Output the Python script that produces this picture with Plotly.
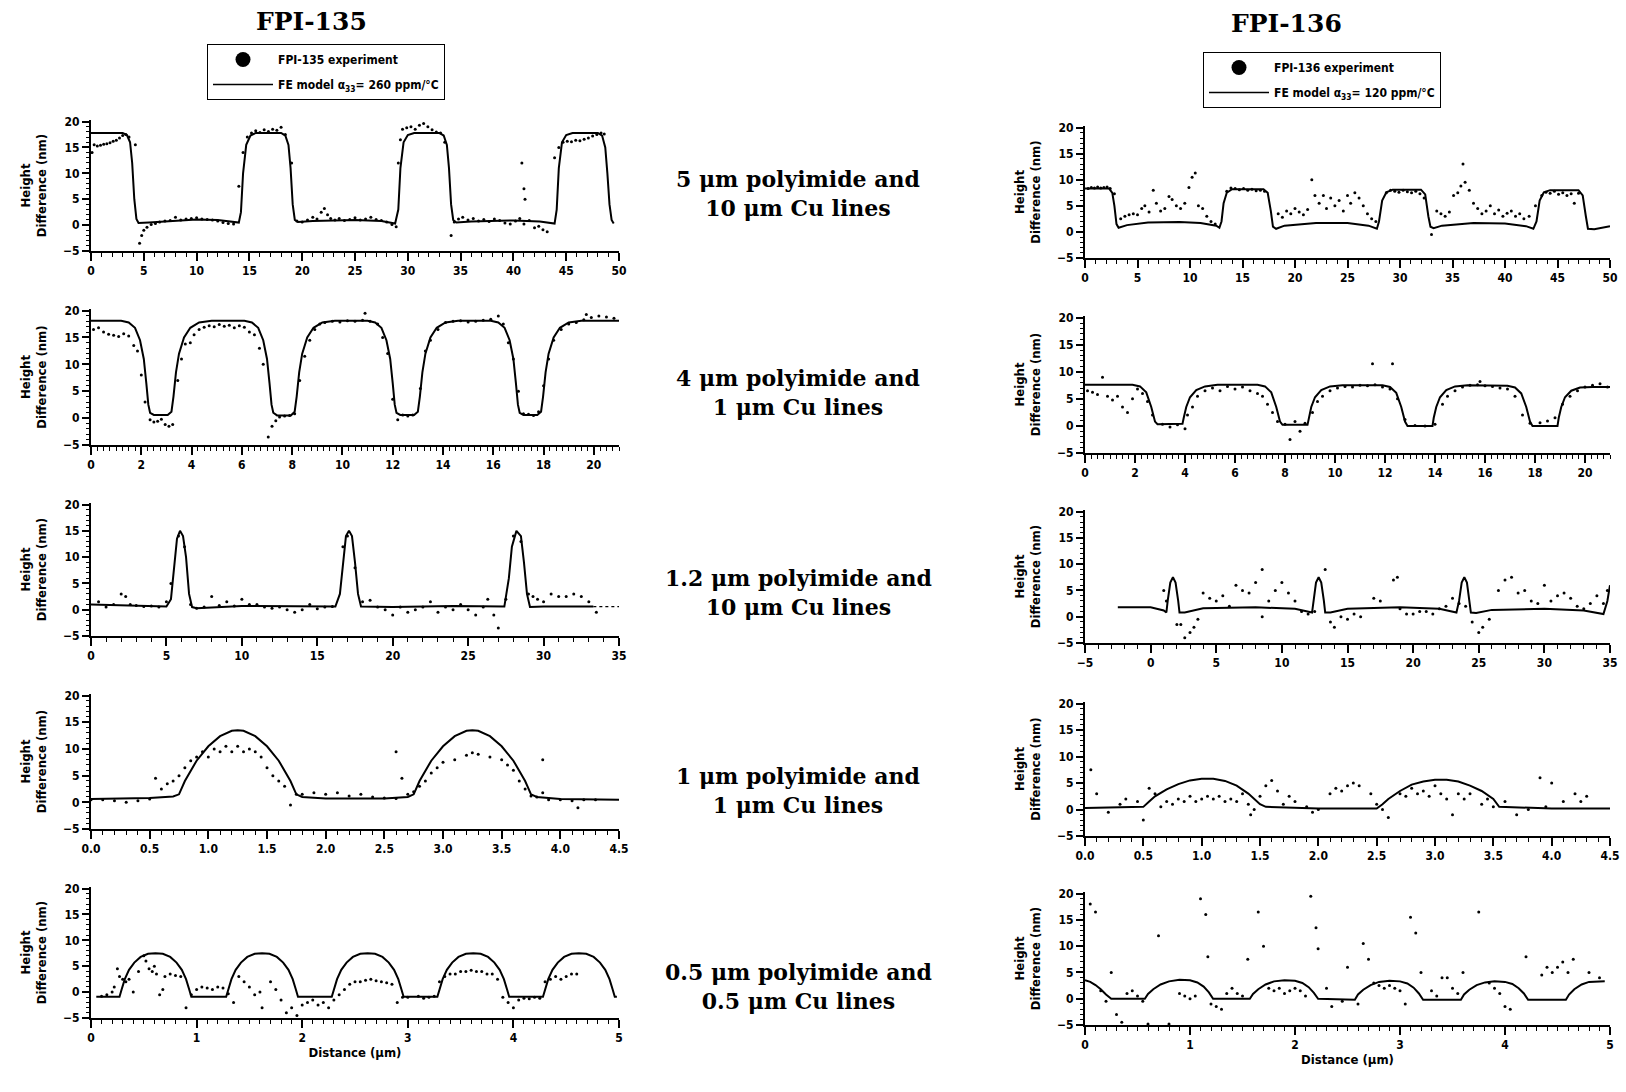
import plotly.graph_objects as go

# ---------------- DATA ----------------
series_names = ["FPI-135 experiment", "FE model \u03b1<sub>33</sub>= 260 ppm/\u00b0C",
                "FPI-136 experiment", "FE model \u03b1<sub>33</sub>= 120 ppm/\u00b0C"]
row_labels = ["5 \u03bcm polyimide and<br>10 \u03bcm Cu lines",
              "4 \u03bcm polyimide and<br>1 \u03bcm Cu lines",
              "1.2 \u03bcm polyimide and<br>10 \u03bcm Cu lines",
              "1 \u03bcm polyimide and<br>1 \u03bcm Cu lines",
              "0.5 \u03bcm polyimide and<br>0.5 \u03bcm Cu lines"]

# Row 1: 5 um PI / 10 um Cu
r1_fe135 = [(0,17.8),(3.0,17.8),(3.4,17.4),(3.7,16.0),(3.9,12.0),(4.1,5.0),(4.3,1.2),(4.5,0.4),(5.5,0.5),(8,0.9),(10,1.1),(12,1.0),(13.5,0.6),
            (14.0,0.5),(14.2,2.5),(14.4,10.0),(14.7,15.5),(15.1,17.3),(15.6,17.8),(18.0,17.8),(18.4,17.3),(18.7,15.5),(18.9,11.0),(19.1,4.0),(19.3,1.0),(19.6,0.6),
            (21,0.8),(25,1.0),(27.5,0.8),(28.8,0.3),(29.1,3.0),(29.3,11.0),(29.6,16.0),(30.0,17.4),(30.6,17.8),(33.0,17.8),(33.4,17.3),(33.7,15.5),(33.9,11.0),(34.1,4.0),(34.3,1.0),(34.6,0.5),
            (36,0.7),(40,0.9),(42.5,0.7),(43.9,0.3),(44.1,3.0),(44.3,11.0),(44.6,16.0),(45.0,17.4),(45.6,17.8),(48.0,17.8),(48.4,17.3),(48.7,15.0),(48.9,10.0),(49.1,4.0),(49.3,1.0),(49.5,0.3)]
r1_exp135 = [(0.1,14.0),(0.3,15.5),(0.6,15.3),(0.9,15.4),(1.2,15.6),(1.5,15.7),(1.8,15.9),(2.1,16.2),(2.4,16.4),(2.7,16.8),(3.0,17.3),(3.3,17.5),(3.6,17.0),(4.2,15.5),
             (4.6,-3.5),(4.8,-2.0),(5.0,-1.0),(5.3,-0.4),(5.7,0.1),(6.1,0.3),(6.5,0.6),(7.0,0.8),(7.5,0.9),(8.0,1.5),(8.5,1.0),(9.0,1.2),(9.5,1.3),(10.0,1.4),(10.5,1.2),
             (11.0,1.1),(11.5,1.0),(12.0,0.8),(12.5,0.5),(13.0,0.3),(13.5,0.2),(14.0,7.5),(14.4,14.0),(14.8,17.0),(15.2,17.8),(15.6,18.2),(16.0,17.9),(16.4,18.4),(16.8,18.1),
             (17.2,18.5),(17.6,18.3),(18.0,18.9),(18.4,17.5),(19.0,12.0),(19.5,0.8),(20.0,0.6),(20.5,1.0),(21.0,1.5),(21.4,1.2),(21.8,2.5),(22.1,3.2),(22.4,2.0),(22.7,1.3),
             (23.1,1.0),(23.5,1.3),(24.0,0.9),(24.5,1.1),(25.0,1.4),(25.5,1.0),(26.0,1.2),(26.5,1.5),(27.0,1.1),(27.5,0.9),(28.0,0.6),(28.5,0.1),(28.9,-0.3),(29.1,12.0),
             (29.3,16.5),(29.5,18.5),(29.9,18.8),(30.3,19.0),(30.7,18.5),(31.1,19.3),(31.5,19.6),(31.9,19.0),(32.3,18.4),(32.7,18.0),(33.1,17.8),(33.5,16.0),(34.1,-2.0),
             (34.4,0.6),(34.8,1.2),(35.2,1.5),(35.7,1.0),(36.2,1.3),(36.7,0.8),(37.2,1.1),(37.7,0.7),(38.2,1.2),(38.7,0.9),(39.2,0.4),(39.7,0.2),(40.2,0.8),(40.6,1.3),
             (41.0,0.2),(41.5,0.9),(42.0,-0.5),(42.4,-0.2),(42.8,-0.9),(43.2,-1.3),(40.8,12.0),(41.0,7.0),(41.1,5.0),(43.9,13.0),(44.3,15.0),(44.7,16.0),(45.1,16.2),
             (45.5,16.1),(45.9,16.4),(46.3,16.3),(46.7,16.6),(47.1,16.8),(47.5,17.2),(47.9,17.5),(48.3,17.8),(48.6,17.6)]
r1_fe136 = [(0,8.3),(2.3,8.3),(2.6,7.5),(2.8,5.0),(3.0,1.5),(3.2,0.8),(4,1.3),(6,1.8),(9,1.9),(11,1.7),(12.5,1.2),(12.8,0.8),(13.0,2.0),(13.2,5.5),(13.5,7.5),(14.0,8.2),
            (17.0,8.2),(17.4,7.5),(17.7,4.0),(17.9,1.0),(18.2,0.6),(19,1.2),(22,1.7),(25,1.7),(27,1.2),(27.8,0.6),(28.0,2.0),(28.3,6.0),(28.7,7.6),(29.3,8.1),(32.0,8.1),
            (32.4,7.2),(32.7,3.0),(32.9,1.0),(33.2,0.7),(34,1.2),(37,1.7),(40,1.6),(42,1.1),(42.7,0.6),(43.0,2.0),(43.3,6.0),(43.7,7.6),(44.3,8.0),(47.0,8.0),(47.4,7.0),
            (47.7,3.0),(47.9,0.6),(48.5,0.5),(49.5,1.0),(50,1.1)]
r1_exp136 = [(0.3,8.3),(0.6,8.5),(0.9,8.4),(1.2,8.6),(1.5,8.4),(1.8,8.5),(2.1,8.6),(2.4,8.3),(2.8,7.3),(3.4,2.5),(3.8,3.0),(4.2,3.3),(4.6,3.5),(5.0,3.3),(5.4,4.5),
             (5.7,5.0),(6.1,3.8),(6.5,8.0),(6.8,5.5),(7.2,4.0),(7.6,4.5),(8.0,6.8),(8.3,6.2),(8.7,5.0),(9.1,4.5),(9.5,5.5),(9.9,8.5),(10.2,10.5),(10.5,11.3),(10.8,5.0),
             (11.2,4.5),(11.6,3.0),(12.0,2.0),(12.4,1.5),(13.5,7.8),(13.9,8.4),(14.3,8.3),(14.7,8.1),(15.1,8.3),(15.5,8.0),(15.9,8.2),(16.3,7.9),(16.7,8.0),(17.1,7.8),
             (18.4,3.5),(18.8,2.8),(19.2,4.0),(19.6,3.5),(20.0,4.5),(20.4,3.8),(20.8,3.3),(21.2,4.3),(21.6,10.0),(21.9,7.0),(22.3,5.5),(22.7,7.0),(23.0,4.5),(23.4,6.5),
             (23.8,5.0),(24.2,6.0),(24.6,4.0),(25.0,7.0),(25.3,5.5),(25.7,7.5),(26.1,6.5),(26.5,5.0),(26.9,3.5),(27.3,2.5),(27.7,2.0),(28.7,7.5),(29.1,8.0),(29.5,7.8),
             (29.9,7.6),(30.3,8.0),(30.7,7.7),(31.1,7.5),(31.5,7.8),(31.9,7.3),(32.3,6.5),(33.0,-0.5),(33.5,4.0),(33.9,3.5),(34.3,3.0),(34.7,3.8),(35.1,7.0),(35.5,7.5),
             (35.8,8.8),(36.2,9.5),(36.0,13.0),(36.6,8.0),(37.0,5.5),(37.4,4.5),(37.8,3.5),(38.2,4.0),(38.6,5.0),(39.0,3.5),(39.4,4.2),(39.8,3.0),(40.2,3.6),(40.6,4.0),
             (41.0,3.0),(41.4,3.5),(41.8,2.5),(42.3,3.0),(42.9,5.0),(43.5,7.0),(43.9,7.6),(44.3,7.4),(44.7,7.8),(45.1,7.2),(45.5,7.5),(45.9,7.0),(46.3,7.3),(46.6,5.5),(47.0,7.4)]

# Row 2: 4 um PI / 1 um Cu
r2_fe135 = [(0,18.1),(1.2,18.1),(1.5,17.8),(1.75,16.8),(1.95,14.5),(2.1,11.0),(2.2,6.5),(2.28,2.5),(2.35,1.0),(2.5,0.6),(3.05,0.6),(3.2,1.2),(3.28,4.0),(3.38,8.5),(3.5,12.0),
            (3.7,15.0),(3.95,16.8),(4.3,17.8),(4.8,18.1),(6.1,18.1),(6.4,17.8),(6.65,16.8),(6.85,14.5),(7.0,11.0),(7.1,6.5),(7.18,2.5),(7.25,1.0),(7.4,0.5),(7.95,0.5),
            (8.1,1.2),(8.18,4.0),(8.28,8.5),(8.4,12.0),(8.6,15.0),(8.85,16.8),(9.2,17.8),(9.7,18.1),(11.0,18.1),(11.3,17.8),(11.55,16.8),(11.75,14.5),(11.9,11.0),(12.0,6.5),
            (12.08,2.5),(12.15,1.0),(12.3,0.6),(12.85,0.6),(13.0,1.2),(13.08,4.0),(13.18,8.5),(13.3,12.0),(13.5,15.0),(13.75,16.8),(14.1,17.8),(14.6,18.1),(15.9,18.1),
            (16.2,17.8),(16.45,16.8),(16.65,14.5),(16.8,11.0),(16.9,6.5),(16.98,2.5),(17.05,1.0),(17.2,0.6),(17.75,0.6),(17.9,1.2),(17.98,4.0),(18.08,8.5),(18.2,12.0),
            (18.4,15.0),(18.65,16.8),(19.0,17.8),(19.5,18.1),(21,18.1)]
r2_exp135 = [(0.1,16.5),(0.3,16.8),(0.5,16.0),(0.7,15.6),(0.9,15.4),(1.1,15.2),(1.3,15.7),(1.5,15.3),(1.7,13.5),(1.85,12.5),(2.0,8.0),(2.15,3.0),(2.35,-0.3),(2.5,-0.7),
             (2.65,-0.6),(2.8,-0.2),(2.95,-1.2),(3.1,-1.5),(3.25,-1.2),(3.45,7.0),(3.6,11.0),(3.75,13.8),(3.95,14.0),(4.1,15.5),(4.3,16.5),(4.5,16.9),(4.7,17.2),(4.9,17.0),
             (5.1,17.4),(5.3,17.1),(5.5,17.3),(5.7,16.8),(5.9,17.2),(6.1,16.9),(6.3,16.0),(6.5,15.5),(6.7,13.0),(6.85,10.0),(7.05,-3.5),(7.2,-1.5),(7.35,-0.5),(7.5,0.2),
             (7.7,0.4),(7.9,0.5),(8.1,0.8),(8.3,7.0),(8.5,11.5),(8.7,14.5),(8.9,16.5),(9.1,17.5),(9.3,17.8),(9.6,18.0),(9.9,17.9),(10.2,18.1),(10.5,18.0),(10.8,18.2),
             (10.9,19.5),(11.1,18.0),(11.4,17.5),(11.6,15.0),(11.8,12.0),(12.0,3.5),(12.2,-0.3),(12.4,0.6),(12.6,0.4),(12.8,0.6),(13.1,5.5),(13.3,12.5),(13.5,14.5),
             (13.8,16.5),(14.1,17.8),(14.4,18.0),(14.7,18.1),(15.0,17.9),(15.3,18.0),(15.6,18.2),(15.9,18.4),(16.2,19.0),(16.4,17.5),(16.6,14.0),(16.8,11.0),(17.0,5.0),
             (17.2,0.8),(17.4,0.7),(17.6,0.5),(17.8,1.2),(18.0,6.0),(18.2,11.0),(18.4,14.5),(18.7,16.5),(19.0,17.5),(19.3,17.8),(19.6,18.3),(19.9,18.7),(20.2,19.0),
             (20.5,18.8),(20.8,18.6),(19.7,19.3)]
r2_fe136 = [(0,7.6),(1.9,7.6),(2.2,7.3),(2.45,6.2),(2.65,3.5),(2.8,0.8),(2.9,0.3),(3.9,0.4),(3.95,1.5),(4.05,3.5),(4.2,5.3),(4.45,6.6),(4.8,7.3),(5.3,7.6),
            (6.9,7.6),(7.2,7.3),(7.45,6.2),(7.65,3.5),(7.8,0.8),(7.9,0.2),(8.9,0.2),(8.95,1.5),(9.05,3.5),(9.2,5.3),(9.45,6.6),(9.8,7.3),(10.3,7.5),
            (11.9,7.5),(12.2,7.2),(12.45,6.1),(12.65,3.5),(12.8,0.8),(12.9,0.0),(13.9,0.0),(13.95,1.5),(14.05,3.5),(14.2,5.3),(14.45,6.6),(14.8,7.3),(15.3,7.5),
            (16.9,7.4),(17.2,7.1),(17.45,6.0),(17.65,3.5),(17.8,0.8),(17.9,0.0),(18.9,0.0),(18.95,1.5),(19.05,3.5),(19.2,5.3),(19.45,6.5),(19.8,7.1),(20.3,7.2),(21,7.2)]
r2_exp136 = [(0.1,6.5),(0.3,6.2),(0.5,5.8),(0.7,9.0),(0.9,5.5),(1.1,4.8),(1.3,5.5),(1.5,3.5),(1.7,2.5),(1.9,5.0),(2.1,6.8),(2.3,6.0),(2.5,4.5),(2.7,2.0),(3.1,0.3),
             (3.4,-0.2),(3.7,0.2),(4.0,-0.5),(4.1,2.0),(4.3,3.5),(4.5,5.5),(4.8,6.5),(5.1,7.0),(5.4,6.5),(5.7,7.3),(6.0,6.8),(6.3,7.2),(6.6,6.5),(6.9,6.0),(7.1,5.5),
             (7.3,4.0),(7.5,2.5),(7.7,0.8),(8.0,0.3),(8.2,-2.5),(8.4,0.8),(8.6,-1.0),(8.8,0.5),(9.1,2.5),(9.3,4.5),(9.5,5.5),(9.8,6.5),(10.1,7.0),(10.4,7.3),(10.7,7.2),
             (11.0,7.5),(11.3,7.4),(11.6,7.6),(11.9,7.2),(12.2,6.8),(12.5,5.0),(12.8,1.2),(13.2,0.1),(13.6,0.0),(14.0,0.3),(14.3,4.0),(14.5,5.5),(14.8,6.5),(15.1,7.2),
             (15.4,7.5),(15.7,7.6),(16.0,7.4),(16.3,7.3),(16.6,7.0),(16.9,6.8),(17.2,5.5),(17.5,2.0),(17.8,0.5),(18.2,0.6),(18.5,0.9),(18.8,1.5),(19.1,4.0),(19.4,5.5),
             (19.7,6.5),(20.0,7.2),(20.3,7.5),(20.6,7.8),(20.9,7.2),(11.5,11.5),(12.3,11.5),(15.8,8.2)]

# Row 3: 1.2 um PI / 10 um Cu
r3_fe135 = [(0,1.0),(3,0.8),(5,0.6),(5.3,2.0),(5.5,8.0),(5.7,13.5),(5.9,15.0),(6.1,14.0),(6.3,10.0),(6.5,3.0),(6.7,0.5),(7,0.3),(10,0.7),(14,0.7),(16.2,0.6),(16.5,3.0),
            (16.7,9.0),(16.9,14.0),(17.1,15.0),(17.3,14.0),(17.5,9.0),(17.7,3.0),(17.9,0.6),(20,0.5),(24,0.7),(27,0.5),(27.4,0.6),(27.7,6.0),(27.9,12.0),(28.2,15.0),
            (28.5,14.0),(28.7,9.0),(28.9,3.0),(29.1,0.5),(30,0.6),(33.3,0.6)]
r3_fe135_tail = [(33.3,0.6),(35,0.6)]
r3_exp135 = [(0.5,1.5),(1,0.5),(1.5,1.0),(2,3.0),(2.3,2.5),(2.6,1.0),(3,0.8),(3.5,0.6),(4,0.7),(4.5,0.5),(5,1.5),(5.3,5.0),(5.8,14.0),(6.2,12.0),(6.6,1.0),(7,0.3),
             (7.5,0.5),(8,2.5),(8.5,0.8),(9,1.5),(9.5,0.7),(10,2.0),(10.5,1.0),(11,1.0),(11.5,0.5),(12,0.3),(12.5,0.5),(13,0.0),(13.5,-0.5),(14,0.0),(14.5,1.0),(15,0.2),
             (15.5,0.5),(16,0.6),(16.7,12.0),(17,14.0),(17.5,8.0),(18,1.5),(18.5,1.8),(19,0.5),(19.5,0.0),(20,-1.0),(20.5,0.5),(21,-0.5),(21.5,0.0),(22,0.5),(22.5,1.5),
             (23,-0.5),(23.5,0.5),(24,0.0),(24.5,1.0),(25,0.0),(25.5,-1.0),(26,0.5),(26.3,2.0),(26.7,-1.0),(27,-3.5),(27.5,2.0),(28,14.0),(28.5,13.0),(29,3.0),(29.3,2.5),
             (29.6,2.0),(30,1.5),(30.5,3.0),(31,2.5),(31.5,2.5),(32,3.0),(32.5,2.5),(33,1.5),(33.5,-0.5)]
r3_fe136 = [(-2.5,1.8),(0,1.8),(1,1.2),(1.2,0.8),(1.3,3.0),(1.5,6.5),(1.7,7.5),(1.9,6.5),(2.1,3.0),(2.2,0.8),(2.6,0.8),(4,1.6),(8,1.8),(11,1.5),(12.3,0.8),(12.4,3.0),
            (12.6,6.5),(12.8,7.5),(13.0,6.5),(13.2,3.0),(13.3,0.8),(13.7,0.8),(15,1.5),(19,1.8),(22,1.5),(23.3,0.8),(23.5,3.0),(23.7,6.5),(23.9,7.5),(24.1,6.5),(24.3,3.0),
            (24.4,0.8),(24.8,0.7),(26,1.3),(30,1.5),(33,1.2),(34.5,0.5),(34.8,3.0),(35,6.0)]
r3_exp136 = [(1.0,5.0),(1.2,3.0),(2.0,-1.5),(2.3,-1.5),(2.6,-4.0),(3,-3.0),(3.3,-2.0),(3.6,-0.5),(4,4.5),(4.5,3.5),(5,3.0),(5.5,4.0),(6,2.0),(6.5,6.0),(7,5.0),(7.5,4.5),
             (8,6.5),(8.5,9.0),(8.5,0.0),(9,3.0),(9.5,5.0),(10,6.5),(10.5,4.5),(11,3.0),(11.5,1.0),(12,0.5),(12.5,1.0),(13.3,9.0),(13.7,-1.0),(14,-2.0),(14.5,0.0),
             (15,-0.5),(15.5,0.5),(16,0.0),(17,3.5),(17.5,3.0),(18.5,7.0),(18.8,7.5),(19,1.5),(19.5,0.5),(20,0.5),(20.5,1.0),(21,1.0),(21.5,0.5),(22,1.5),(22.5,2.0),
             (23,3.5),(23.5,2.5),(24,2.0),(24.5,-1.0),(25,-3.0),(25.3,-2.0),(25.8,-0.5),(26.5,5.0),(27,7.0),(27.5,7.5),(28,4.5),(28.5,5.0),(29,3.0),(29.5,2.5),(30,6.0),
             (30.5,3.0),(31,4.0),(31.5,4.5),(32,3.5),(32.5,2.0),(33,1.5),(33.5,2.5),(34,4.0),(34.5,2.5),(34.8,5.0)]

# Row 4: 1 um PI / 1 um Cu
r4_fe135 = [(0,0.6),(0.5,0.8),(0.7,1.1),(0.75,1.5),(0.8,4.0),(0.9,7.8),(1.0,10.5),(1.1,12.4),(1.2,13.4),(1.25,13.5),(1.3,13.4),(1.4,12.4),(1.5,10.5),(1.6,7.8),
            (1.7,4.0),(1.75,1.5),(1.8,1.0),(2.0,0.7),(2.5,0.7),(2.7,1.0),(2.75,1.5),(2.8,4.0),(2.9,7.8),(3.0,10.5),(3.1,12.4),(3.2,13.4),(3.25,13.5),(3.3,13.4),
            (3.4,12.4),(3.5,10.5),(3.6,7.8),(3.7,4.0),(3.75,1.5),(3.8,1.0),(4.0,0.6),(4.5,0.5)]
r4_exp135 = [(0,0.5),(0.1,0.5),(0.2,0.3),(0.3,0.0),(0.4,0.3),(0.5,0.6),(0.55,4.5),(0.6,2.5),(0.65,3.5),(0.7,4.0),(0.75,5.0),(0.8,6.5),(0.85,7.8),(0.9,8.5),(0.95,9.5),
             (1.0,8.5),(1.05,10.0),(1.1,9.5),(1.15,10.5),(1.2,9.5),(1.25,10.5),(1.3,9.5),(1.35,10.0),(1.4,9.5),(1.45,8.5),(1.5,6.5),(1.55,5.0),(1.6,4.0),(1.65,3.0),
             (1.7,-0.5),(1.75,1.5),(1.8,1.5),(1.9,1.8),(2.0,1.5),(2.1,1.8),(2.2,1.2),(2.3,1.5),(2.4,1.0),(2.5,0.8),(2.6,0.7),(2.7,1.5),(2.65,4.5),(2.75,2.0),(2.8,3.0),
             (2.85,4.0),(2.9,5.5),(2.95,6.5),(3.0,7.5),(3.1,8.0),(3.2,8.8),(3.25,9.3),(3.3,9.0),(3.4,8.5),(3.5,8.0),(3.55,7.0),(3.6,6.0),(3.65,4.0),(3.7,2.5),(3.75,1.2),
             (3.8,1.0),(3.85,1.8),(3.9,0.5),(4.0,0.5),(4.1,0.3),(4.15,-1.0),(4.2,0.5),(4.3,0.5),(2.6,9.5),(3.85,8.0)]
r4_fe136 = [(0,0.3),(0.5,0.5),(0.55,1.5),(0.6,2.5),(0.7,3.8),(0.8,4.8),(0.9,5.5),(1.0,5.8),(1.1,5.8),(1.2,5.4),(1.3,4.5),(1.4,3.0),(1.5,1.0),(1.55,0.5),(2,0.2),
            (2.5,0.2),(2.55,1.0),(2.6,2.0),(2.7,3.5),(2.8,4.7),(2.9,5.3),(3.0,5.6),(3.1,5.6),(3.2,5.3),(3.3,4.5),(3.4,3.5),(3.5,2.0),(3.55,0.5),(4,0.2),(4.5,0.2)]
r4_exp136 = [(0.05,7.5),(0.1,3.0),(0.2,-0.5),(0.3,1.0),(0.35,2.0),(0.45,1.5),(0.5,-2.0),(0.55,4.0),(0.6,3.0),(0.65,0.5),(0.7,1.5),(0.75,1.0),(0.8,2.0),(0.85,1.5),
             (0.9,2.5),(0.95,1.5),(1.0,2.0),(1.05,2.5),(1.1,2.0),(1.15,2.5),(1.2,1.5),(1.25,2.0),(1.3,1.5),(1.35,3.0),(1.4,1.0),(1.42,-1.0),(1.45,0.0),(1.5,2.5),(1.55,4.5),
             (1.6,5.5),(1.65,3.5),(1.7,1.0),(1.75,2.5),(1.8,1.5),(1.9,0.5),(1.95,-0.5),(2.0,0.0),(2.1,3.0),(2.15,4.0),(2.2,3.5),(2.25,4.5),(2.3,5.0),(2.35,4.5),(2.45,3.0),
             (2.5,1.0),(2.55,0.0),(2.6,-1.5),(2.7,3.0),(2.75,2.5),(2.8,4.0),(2.85,3.0),(2.9,3.5),(2.95,2.5),(3.0,4.5),(3.05,3.0),(3.1,2.0),(3.15,-1.0),(3.2,3.0),(3.25,2.0),
             (3.3,3.0),(3.4,1.0),(3.45,2.0),(3.5,0.5),(3.6,1.5),(3.7,-1.0),(3.8,0.0),(3.9,6.0),(3.95,0.5),(4.0,5.0),(4.1,1.5),(4.2,3.0),(4.25,1.5),(4.3,2.5)]

# Row 5: 0.5 um PI / 0.5 um Cu
r5_fe135 = [(0.05,-0.9),(0.27,-0.9),(0.29,0.5),(0.32,2.5),(0.36,4.3),(0.41,5.7),(0.47,6.8),(0.54,7.4),(0.61,7.5),(0.68,7.4),(0.75,6.8),(0.81,5.7),(0.86,4.3),(0.9,2.5),
            (0.93,0.5),(0.95,-0.9),(1.28,-0.9),(1.30,0.5),(1.33,2.5),(1.37,4.3),(1.42,5.7),(1.48,6.8),(1.55,7.4),(1.62,7.5),(1.69,7.4),(1.76,6.8),(1.82,5.7),(1.87,4.3),
            (1.91,2.5),(1.94,0.5),(1.96,-0.9),(2.28,-0.9),(2.30,0.5),(2.33,2.5),(2.37,4.3),(2.42,5.7),(2.48,6.8),(2.55,7.4),(2.62,7.5),(2.69,7.4),(2.76,6.8),(2.82,5.7),
            (2.87,4.3),(2.91,2.5),(2.94,0.5),(2.96,-0.9),(3.28,-0.9),(3.30,0.5),(3.33,2.5),(3.37,4.3),(3.42,5.7),(3.48,6.8),(3.55,7.4),(3.62,7.5),(3.69,7.4),(3.76,6.8),
            (3.82,5.7),(3.87,4.3),(3.91,2.5),(3.94,0.5),(3.96,-0.9),(4.28,-0.9),(4.30,0.5),(4.33,2.5),(4.37,4.3),(4.42,5.7),(4.48,6.8),(4.55,7.4),(4.62,7.5),(4.69,7.4),
            (4.76,6.8),(4.82,5.7),(4.87,4.3),(4.91,2.5),(4.94,0.5),(4.96,-0.9),(4.98,-0.9)]
r5_exp135 = [(0.1,-0.8),(0.15,-0.5),(0.2,0.0),(0.22,1.0),(0.25,4.5),(0.27,3.0),(0.3,2.5),(0.33,2.0),(0.36,2.5),(0.4,0.0),(0.45,4.0),(0.5,7.0),(0.52,6.0),(0.55,4.5),
             (0.58,4.0),(0.6,5.0),(0.62,3.5),(0.65,-0.5),(0.68,0.5),(0.7,3.0),(0.75,3.5),(0.8,3.2),(0.85,3.0),(0.9,-3.0),(0.95,-0.5),(1.0,0.5),(1.05,1.0),(1.1,0.8),
             (1.15,0.5),(1.2,1.0),(1.25,0.8),(1.3,-0.3),(1.35,-2.0),(1.4,3.0),(1.45,2.0),(1.5,1.0),(1.55,-0.5),(1.6,0.0),(1.62,-3.0),(1.7,2.0),(1.75,0.5),(1.8,-1.5),
             (1.85,-4.0),(1.9,-3.0),(1.95,-4.5),(2.0,-2.5),(2.05,-2.0),(2.1,-1.5),(2.15,-2.5),(2.2,-2.0),(2.25,-3.0),(2.3,-1.5),(2.35,-0.5),(2.4,0.5),(2.45,1.5),(2.5,2.0),
             (2.55,2.0),(2.6,2.3),(2.65,2.5),(2.7,2.2),(2.75,2.0),(2.8,1.8),(2.85,1.5),(2.9,-2.0),(2.95,-1.0),(3.0,-1.0),(3.1,-0.8),(3.15,-1.2),(3.2,-1.0),(3.25,-0.8),
             (3.3,2.0),(3.35,3.0),(3.4,3.5),(3.45,3.5),(3.5,4.0),(3.55,4.0),(3.6,4.2),(3.65,4.0),(3.7,4.0),(3.75,3.5),(3.8,3.5),(3.85,2.5),(3.9,-1.0),(3.95,-2.0),
             (4.0,-3.0),(4.05,-1.5),(4.1,-1.2),(4.15,-1.3),(4.2,-1.0),(4.25,-1.2),(4.3,2.0),(4.35,2.5),(4.4,3.0),(4.45,2.5),(4.5,3.0),(4.55,3.5),(4.6,3.5)]
r5_fe136 = [(0.0,3.5),(0.05,3.2),(0.1,2.6),(0.15,1.8),(0.2,0.8),(0.25,0.0),(0.57,0.0),(0.6,0.9),(0.65,1.8),(0.72,2.7),(0.8,3.3),(0.9,3.6),(1.0,3.5),(1.07,3.1),(1.13,2.3),
            (1.18,1.2),(1.22,0.0),(1.57,0.0),(1.6,0.9),(1.65,1.8),(1.72,2.7),(1.8,3.3),(1.9,3.5),(2.0,3.4),(2.07,3.0),(2.13,2.2),(2.18,1.1),(2.22,0.0),(2.57,-0.2),
            (2.6,0.8),(2.65,1.7),(2.72,2.6),(2.8,3.2),(2.9,3.4),(3.0,3.3),(3.07,2.9),(3.13,2.1),(3.18,1.0),(3.22,-0.2),(3.58,-0.2),(3.61,0.8),(3.66,1.7),(3.73,2.6),
            (3.81,3.1),(3.9,3.3),(4.0,3.2),(4.07,2.8),(4.13,2.0),(4.18,1.0),(4.22,-0.2),(4.58,-0.2),(4.61,0.8),(4.66,1.8),(4.73,2.7),(4.8,3.2),(4.87,3.3),(4.95,3.3)]
r5_exp136 = [(0.05,18.0),(0.1,16.5),(0.15,1.5),(0.2,-0.5),(0.25,5.0),(0.3,-3.0),(0.35,-4.5),(0.4,1.0),(0.45,1.5),(0.5,0.5),(0.55,-0.5),(0.6,-4.8),(0.7,12.0),(0.8,-4.8),
             (0.9,1.0),(0.95,0.5),(1.0,0.0),(1.05,0.5),(1.1,19.0),(1.15,16.0),(1.17,8.0),(1.2,-1.0),(1.25,-1.5),(1.3,-2.0),(1.35,1.0),(1.4,2.0),(1.45,1.0),(1.5,0.5),
             (1.55,7.5),(1.65,16.5),(1.7,10.0),(1.75,2.0),(1.8,1.5),(1.85,2.0),(1.9,1.0),(1.95,1.5),(2.0,2.0),(2.05,1.5),(2.1,0.5),(2.15,19.5),(2.2,13.5),(2.22,9.5),
             (2.3,2.0),(2.35,-1.5),(2.45,-0.5),(2.5,6.0),(2.6,-1.0),(2.65,10.5),(2.7,7.5),(2.75,3.0),(2.8,2.5),(2.85,2.0),(2.9,2.5),(2.95,2.0),(3.0,1.5),(3.05,-1.0),
             (3.1,15.5),(3.15,12.5),(3.2,5.0),(3.3,1.5),(3.35,0.5),(3.4,4.0),(3.45,4.0),(3.5,2.0),(3.55,1.0),(3.6,5.0),(3.75,16.5),(3.85,3.0),(3.9,2.0),(3.95,1.0),
             (4.0,-1.5),(4.05,-2.0),(4.2,8.0),(4.35,4.5),(4.4,6.0),(4.45,5.0),(4.5,6.0),(4.55,7.0),(4.6,5.0),(4.65,7.5),(4.8,5.0),(4.9,4.0)]

# x-axis setups per row: (range, major dtick, minor dtick, tick format)
x135_axes = [([0, 50], 5, 1, None), ([0, 21], 2, 0.25, None), ([0, 35], 5, 1, None), ([0, 4.5], 0.5, 0.1, ".1f"), ([0, 5], 1, 0.1, None)]
x136_axes = [([0, 50], 5, 1, None), ([0, 21], 2, 0.25, None), ([-5, 35], 5, 1, None), ([0, 4.5], 0.5, 0.1, ".1f"), ([0, 5], 1, 0.1, None)]

# ---------------- LAYOUT GEOMETRY ----------------
W, H = 1626, 1092
left_x = (91, 619)
right_x = (1085, 1610)
left_rows = [(120, 251), (309, 445), (503, 636), (694, 829), (887, 1018)]
right_rows = [(126, 258), (316, 453), (510, 643), (702, 836), (892, 1025)]
label_y = [193, 392, 592, 790, 986]

SANS = "Liberation Sans Narrow, DejaVu Sans Condensed, Arial Narrow, sans-serif"
SERIF = "DejaVu Serif, Century Schoolbook, Liberation Serif, serif"

fig = go.Figure()
left_data = [(r1_fe135, r1_exp135), (r2_fe135, r2_exp135), (r3_fe135, r3_exp135), (r4_fe135, r4_exp135), (r5_fe135, r5_exp135)]
right_data = [(r1_fe136, r1_exp136), (r2_fe136, r2_exp136), (r3_fe136, r3_exp136), (r4_fe136, r4_exp136), (r5_fe136, r5_exp136)]

layout_axes = {}

def add_panel(n, model, exp, xspec, xdom_px, ydom_px, last):
    xa = "x" if n == 1 else f"x{n}"
    ya = "y" if n == 1 else f"y{n}"
    fig.add_trace(go.Scatter(x=[p[0] for p in exp], y=[p[1] for p in exp], mode="markers",
                             marker=dict(size=3, color="black"), showlegend=False, xaxis=xa, yaxis=ya))
    fig.add_trace(go.Scatter(x=[p[0] for p in model], y=[p[1] for p in model], mode="lines",
                             line=dict(color="black", width=2), showlegend=False, xaxis=xa, yaxis=ya))
    rng, dt, mdt, fmt = xspec
    xaxis = dict(domain=[xdom_px[0] / W, xdom_px[1] / W], range=rng, anchor=ya,
                 showline=True, linecolor="black", linewidth=1.5, ticks="outside", ticklen=8,
                 tickwidth=1.5, tickcolor="black", tick0=0, dtick=dt, showgrid=False, zeroline=False,
                 minor=dict(ticks="outside", ticklen=4, tickwidth=1, tickcolor="black", dtick=mdt, tick0=0, showgrid=False),
                 tickfont=dict(family=SANS, size=12, color="black", weight="bold"), automargin=False)
    if fmt:
        xaxis["tickformat"] = fmt
    if last:
        xaxis["title"] = dict(text="Distance (\u03bcm)", font=dict(family=SANS, size=13, color="black", weight="bold"), standoff=4)
    yaxis = dict(domain=[1 - ydom_px[1] / H, 1 - ydom_px[0] / H], range=[-5, 20.3], anchor=xa,
                 showline=True, linecolor="black", linewidth=2, ticks="outside", ticklen=7, tickwidth=1.5,
                 tickcolor="black", tick0=0, dtick=5, showgrid=False, zeroline=False,
                 minor=dict(ticks="outside", ticklen=3, tickwidth=1, tickcolor="black", dtick=1, tick0=0, showgrid=False),
                 tickfont=dict(family=SANS, size=12, color="black", weight="bold"), automargin=False,
                 title=dict(text="Height<br>Difference (nm)", font=dict(family=SANS, size=13, color="black", weight="bold"), standoff=13))
    layout_axes["xaxis" if n == 1 else f"xaxis{n}"] = xaxis
    layout_axes["yaxis" if n == 1 else f"yaxis{n}"] = yaxis

for i in range(5):
    add_panel(i + 1, left_data[i][0], left_data[i][1], x135_axes[i], left_x, left_rows[i], i == 4)
for i in range(5):
    add_panel(i + 6, right_data[i][0], right_data[i][1], x136_axes[i], right_x, right_rows[i], i == 4)

# dotted continuation of the FE model in row 3 (left)
fig.add_trace(go.Scatter(x=[p[0] for p in r3_fe135_tail], y=[p[1] for p in r3_fe135_tail], mode="lines",
                         line=dict(color="black", width=1.2, dash="dot"), showlegend=False, xaxis="x3", yaxis="y3"))

# legend entries
for lg, names in (("legend", series_names[:2]), ("legend2", series_names[2:])):
    fig.add_trace(go.Scatter(x=[None], y=[None], mode="markers", marker=dict(size=15, color="black"),
                             name=names[0], legend=lg, legendgroup=lg + "a", xaxis="x", yaxis="y"))
    fig.add_trace(go.Scatter(x=[None], y=[None], mode="lines", line=dict(color="black", width=1.5),
                             name=names[1], legend=lg, legendgroup=lg + "b", xaxis="x", yaxis="y"))

leg_common = dict(bordercolor="black", borderwidth=1, bgcolor="white", xanchor="left", yanchor="top",
                  font=dict(family=SANS, size=12, color="black", weight="bold"), itemwidth=60, tracegroupgap=6)

annotations = [
    dict(text="FPI-135", x=311 / W, y=1 - 21 / H, xref="paper", yref="paper", showarrow=False,
         xanchor="center", yanchor="middle", font=dict(family=SERIF, size=25, color="black", weight="bold")),
    dict(text="FPI-136", x=1286 / W, y=1 - 23 / H, xref="paper", yref="paper", showarrow=False,
         xanchor="center", yanchor="middle", font=dict(family=SERIF, size=25, color="black", weight="bold")),
]
for lbl, yy in zip(row_labels, label_y):
    annotations.append(dict(text=lbl, x=798 / W, y=1 - yy / H, xref="paper", yref="paper", showarrow=False,
                            xanchor="center", yanchor="middle", align="center",
                            font=dict(family=SERIF, size=22, color="black", weight="bold")))

fig.update_layout(width=W, height=H, margin=dict(l=0, r=0, t=0, b=0), paper_bgcolor="white",
                  plot_bgcolor="white", showlegend=True, annotations=annotations,
                  legend=dict(x=207 / W, y=1 - 44 / H, **leg_common),
                  legend2=dict(x=1203 / W, y=1 - 52 / H, **leg_common),
                  **layout_axes)

fig.write_html("out.html")
